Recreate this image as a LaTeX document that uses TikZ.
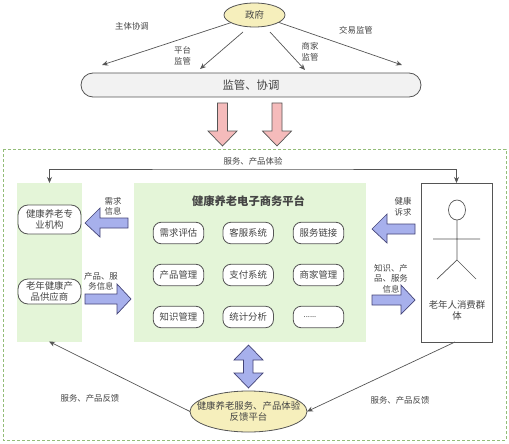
\documentclass[tikz,border=0pt]{standalone}
\usepackage{fontspec}
\setmainfont{Noto Sans CJK SC}
\usetikzlibrary{arrows.meta,shapes.geometric}
\definecolor{txt}{HTML}{444444}
\definecolor{ln}{HTML}{555555}
\definecolor{pale}{HTML}{E4F5D8}
\definecolor{dashg}{HTML}{93BD78}
\definecolor{bluef}{HTML}{A7B0EC}
\definecolor{pinkf}{HTML}{F5BBBB}
\definecolor{yell}{HTML}{F6EFBC}
\tikzset{
  every node/.style={inner sep=0pt,outer sep=0pt,align=center,text=txt},
  lab/.style={font=\fontsize{8.4}{10.6}\selectfont},
  txt9/.style={font=\fontsize{9.4}{11.6}\selectfont},
  oval/.style={ellipse,draw=ln,fill=yell,line width=.8pt,txt9},
  panel/.style={rectangle,fill=pale},
  rbox/.style={rectangle,rounded corners=8pt,draw=ln,fill=white,line width=.8pt,txt9,minimum width=50.5pt,minimum height=21.5pt},
  actor/.style={rectangle,rounded corners=10pt,draw=ln,fill=white,line width=.8pt,txt9,minimum width=63pt},
  conn/.style={draw=ln,line width=.7pt,-{Stealth[length=6pt,width=5pt]}},
  block/.style={draw=ln!80!blue,fill=bluef,line width=.7pt,line join=miter},
  pinkblock/.style={draw=ln,fill=pinkf,line width=.7pt,line join=miter},
  stick/.style={draw=ln,line width=.7pt}
}
\begin{document}
\begin{tikzpicture}[x=1pt,y=-1pt]
\useasboundingbox (0,0) rectangle (509,444);
% frame
\draw[dashg,line width=.8pt,dash pattern=on 3pt off 2pt] (3,149) rectangle (506,440);
% top
\node[oval,minimum width=61pt,minimum height=24pt] (gov) at (254.5,15) {政府};
\node[rectangle,rounded corners=12pt,draw=ln,fill=black!5,line width=.8pt,minimum width=340pt,minimum height=24pt,font=\fontsize{11.4}{13}\selectfont] (sup) at (251,85) {监管、协调};
\coordinate (g1) at (243,32);
\coordinate (g2) at (270,32);
\coordinate (t0) at (102,65);
\coordinate (t1) at (200,69);
\coordinate (t2) at (305,70);
\coordinate (t3) at (402,65);
\draw[conn] (gov.198) -- (t0);
\draw[conn] (g1) -- (t1);
\draw[conn] (g2) -- (t2);
\draw[conn] (gov.-17) -- (t3);
\node[lab] (l1) at (132,26) {主体协调};
\node[lab] (l2) at (182.5,56) {平台\\监管};
\node[lab] (l3) at (310,52) {商家\\监管};
\node[lab] (l4) at (356,30) {交易监管};
% pink arrows
\draw[pinkblock] (217.5,103) -- (227.5,103) -- (227.5,131) -- (237,131) -- (222.5,146) -- (208,131) -- (217.5,131) -- cycle;
\draw[pinkblock] (272,103) -- (282,103) -- (282,131) -- (291.5,131) -- (277,146) -- (262.5,131) -- (272,131) -- cycle;
% panels
\node[panel,minimum width=65pt,minimum height=159pt] (lg) at (49.5,262.5) {};
\node[panel,minimum width=232pt,minimum height=159pt] (mg) at (250,262.5) {};
\node[rectangle,draw=ln,line width=.8pt,fill=white,minimum width=71pt,minimum height=159pt] (pb) at (456.5,262.5) {};
% service
\coordinate (svc) at (253,169);
\draw[conn,{Stealth[length=6pt,width=5pt]}-{Stealth[length=6pt,width=5pt]}] (lg.north) |- (svc) -| (pb.north);
\node[lab] (l5) at (253,161.5) {服务、产品体验};
% left actors
\node[actor,minimum height=29pt] (a1) at (49.5,219.5) {健康养老专\\业机构};
\node[actor,minimum height=25pt] (a2) at (49.5,291.5) {老年健康产\\品供应商};
% main title
\node[font=\fontsize{11.3}{13}\selectfont\bfseries] (title) at (248.5,201) {健康养老电子商务平台};
% inner boxes
\node[rbox] (b11) at (178.5,233) {需求评估};
\node[rbox] (b12) at (248.2,233) {客服系统};
\node[rbox] (b13) at (318.5,233) {服务链接};
\node[rbox] (b21) at (178.5,275) {产品管理};
\node[rbox] (b22) at (248.2,275) {支付系统};
\node[rbox] (b23) at (318.5,275) {商家管理};
\node[rbox] (b31) at (178.5,317) {知识管理};
\node[rbox] (b32) at (248.2,317) {统计分析};
\node[rbox,font=\fontsize{7.5}{9}\selectfont] (b33) at (318.5,317) {\raisebox{-1.5pt}{......}\hspace{17pt}};
% blue arrows
\draw[block] (128,218) -- (100,218) -- (100,208) -- (85,223) -- (100,237) -- (100,228) -- (128,228) -- cycle;
\draw[block] (85,294) -- (117,294) -- (117,284) -- (131,299) -- (117,314) -- (117,304) -- (85,304) -- cycle;
\draw[block] (415,224) -- (387,224) -- (387,214) -- (372,229) -- (387,243) -- (387,234) -- (415,234) -- cycle;
\draw[block] (372,295) -- (401,295) -- (401,285) -- (415,300) -- (401,314) -- (401,305) -- (372,305) -- cycle;
\draw[block] (248.5,345) -- (263,360) -- (253,360) -- (253,373) -- (263,373) -- (248.5,388) -- (234,373) -- (243.5,373) -- (243.5,360) -- (234,360) -- cycle;
\node[lab] (l6) at (113,206.5) {需求\\信息};
\node[lab] (l7) at (101,281.5) {产品、服\\务信息};
\node[lab] (l8) at (403,206.5) {健康\\诉求};
\node[lab] (l9) at (391,278.5) {知识、产\\品、服务\\信息};
% stick figure
\draw[stick] (457,210) ellipse [x radius=8.5,y radius=10];
\draw[stick] (457,220) -- (457,260) (433,239) -- (480,239) (437,279) -- (457,260) -- (476,279);
\node[txt9] (pl) at (457,310.5) {老年人消费群\\体};
% feedback
\node[oval,minimum width=117pt,minimum height=41pt] (fb) at (248.5,411.5) {};
\node[txt9] (fbt) at (248.5,411.5) {健康养老服务、产品体验\\反馈平台};
\coordinate (lgb) at (49,341.5);
\coordinate (pbb) at (455,342);
\draw[conn] (fb.west) -- (lgb);
\draw[conn] (pbb) -- (fb.east);
\node[lab] (l10) at (90,398) {服务、产品反馈};
\node[lab] (l11) at (400,400.5) {服务、产品反馈};
\end{tikzpicture}
\end{document}
